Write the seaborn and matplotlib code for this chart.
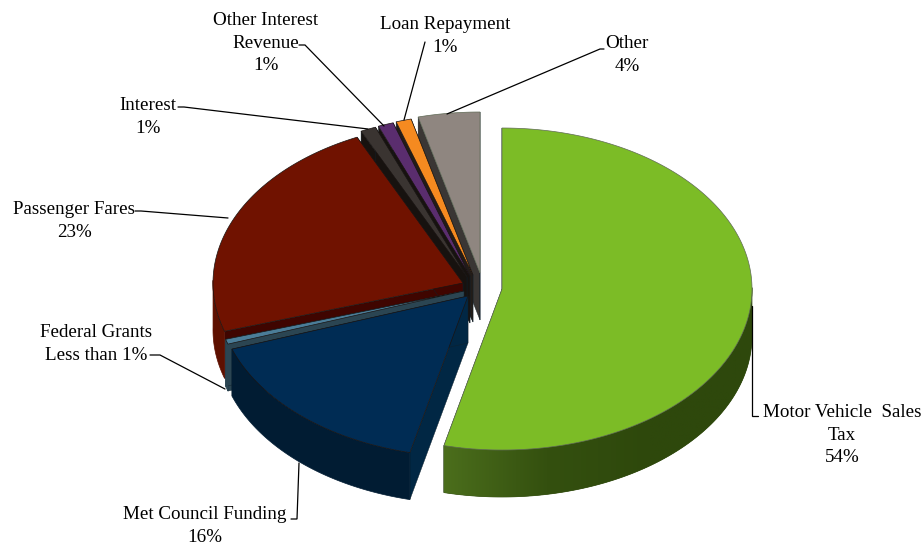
import numpy as np
import matplotlib
matplotlib.use("Agg")
import matplotlib.pyplot as plt
import seaborn as sns
from matplotlib.colors import LinearSegmentedColormap
from matplotlib.patches import Polygon

# Revenue sources, listed clockwise from twelve o'clock
sources = ["Motor Vehicle  Sales\nTax", "Met Council Funding", "Federal Grants",
           "Passenger Fares", "Interest", "Other Interest\nRevenue",
           "Loan Repayment", "Other"]
shares = [54, 16, 0.5, 23, 1, 1, 1, 4]
share_text = ["54%", "16%", "Less than 1%", "23%", "1%", "1%", "1%", "4%"]

top_colors = ["#7cbc26", "#002c54", "#4b7d98", "#701200",
              "#3a3431", "#5a2d6e", "#f58a20", "#8f8680"]
side_colors = ["#2e480c", "#011c33", "#2b4552", "#5e1000",
               "#17120f", "#17120f", "#17120f", "#17120f"]
cut_colors = ["#2e480c", "#012744", "#2b4552", "#3f0500",
              "#17120f", "#17120f", "#221c18", "#3a3634"]
green_wall = ["#4b6e1c", "#34500f", "#2e480c", "#2e480c"]

# Wedge centres on the canvas: each slice is pulled out by its own amount
centers = [(502, 289), (468, 296), (464, 291), (463, 283),
           (467, 277), (470, 276), (473, 275), (480, 273)]
RX, RY, DEPTH = 250, 161, 47

label_pos = [(842, 411), (205, 513), (96, 331), (74, 208),
             (148, 104), (266, 19), (445, 23), (627, 42)]
leaders = [
    [(752, 306), (752, 416), (758, 416)],
    [(299, 463), (297, 519), (291, 519)],
    [(225, 389), (160, 355), (150, 355)],
    [(228, 218), (141, 211), (135, 211)],
    [(368, 129), (184, 107), (178, 107)],
    [(384, 126), (305, 45), (299, 45)],
    [(404, 120), (425, 42)],
    [(447, 114), (600, 49), (604, 49)],
]

sns.set_theme(style="white")
plt.rcParams["font.family"] = ["Liberation Serif", "DejaVu Serif"]

fig, ax = plt.subplots(figsize=(9.22, 5.44), dpi=100)
ax.set_position([0, 0, 1, 1])
ax.axis("off")

palette = sns.color_palette(top_colors)
fractions = np.array(shares, dtype=float) / sum(shares)
edges = np.concatenate([[0], np.cumsum(fractions) * 2 * np.pi])


def rim(center, theta):
    return np.column_stack([center[0] + RX * np.sin(theta),
                            center[1] - RY * np.cos(theta)])


def draw_wedge(i, zorder):
    c = centers[i]
    a0, a1 = edges[i], edges[i + 1]
    arc = np.linspace(a0, a1, max(int((a1 - a0) * 60), 6))
    pts = rim(c, arc)
    down = np.array([0, DEPTH])
    apex = np.array(c, dtype=float)

    # Radial cut faces
    for p in (pts[0], pts[-1]):
        ax.add_patch(Polygon([apex, p, p + down, apex + down],
                             fc=cut_colors[i], ec="#10202a", lw=0.3, zorder=zorder))

    # Outer wall, limited to the part of the arc facing the viewer
    front = pts[np.cos(arc) <= 0.02]
    if len(front) > 1:
        outline = np.vstack([front, (front + down)[::-1]])
        wall = Polygon(outline, fc=side_colors[i], ec=side_colors[i], lw=0.5,
                       zorder=zorder)
        ax.add_patch(wall)
        if i == 0:
            # The largest slice's wall brightens toward its cut edge
            cmap = LinearSegmentedColormap.from_list("wall", green_wall)
            sweep = np.linspace(0, 1, 256).reshape(1, -1)
            left, right = outline[:, 0].min(), outline[:, 0].max()
            top, bottom = outline[:, 1].max(), outline[:, 1].min()
            shade = ax.imshow(sweep, cmap=cmap, aspect="auto", zorder=zorder,
                              extent=(left, right, top, bottom))
            shade.set_clip_path(wall)

    # Top surface
    ax.add_patch(Polygon(np.vstack([apex, pts]), closed=True, fc=palette[i],
                         ec="#5f6a55" if i in (0, 7) else "#1a1412", lw=0.5,
                         zorder=zorder + 0.5))


# Back slices first so nearer ones paint over them
for z, i in enumerate([7, 6, 5, 4, 3, 2, 1, 0]):
    draw_wedge(i, z + 1)

ax.set_xlim(0, 922)
ax.set_ylim(544, 0)

for path in leaders:
    xs, ys = zip(*path)
    ax.plot(xs, ys, color="black", lw=0.9, zorder=20, solid_joinstyle="miter")

for name, pct, (x, y) in zip(sources, share_text, label_pos):
    ax.text(x, y - 7, f"{name}\n{pct}", ha="center", va="top",
            fontsize=13.7, color="black", linespacing=1.43, zorder=21)

sns.despine(ax=ax, left=True, bottom=True)
fig.savefig("out.png", dpi=100, facecolor="white")
